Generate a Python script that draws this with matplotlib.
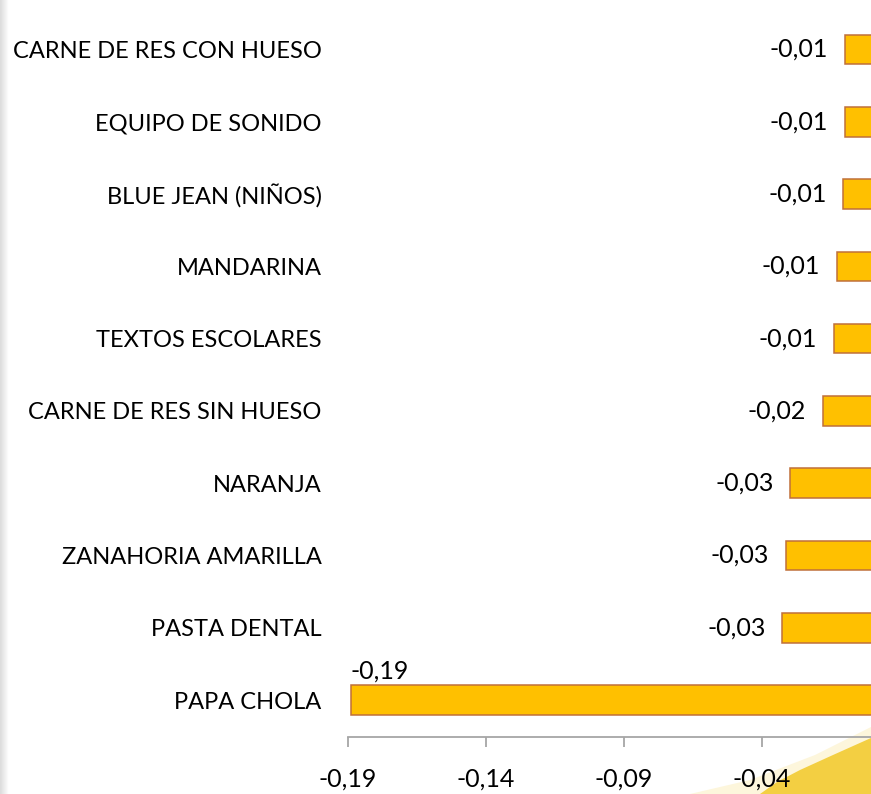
import matplotlib
matplotlib.use("Agg")
import matplotlib.pyplot as plt
from matplotlib.patches import Polygon
from matplotlib.ticker import FuncFormatter
import numpy as np

# data, bottom to top as drawn
productos = ["PAPA CHOLA", "PASTA DENTAL", "ZANAHORIA AMARILLA", "NARANJA",
             "CARNE DE RES SIN HUESO", "TEXTOS ESCOLARES", "MANDARINA",
             "BLUE JEAN (NIÑOS)", "EQUIPO DE SONIDO", "CARNE DE RES CON HUESO"]
variacion = [-0.189, -0.0325, -0.0312, -0.0297, -0.0178, -0.0138, -0.0127,
             -0.0104, -0.0098, -0.0098]
x_ticks = [-0.19, -0.14, -0.09, -0.04]

plt.rcParams['font.family'] = ['Lato', 'DejaVu Sans']

def coma(v, pos=None):
    return ("%.2f" % v).replace(".", ",")

fig = plt.figure(figsize=(8.71, 7.94), dpi=100)

# yellow swoosh in the bottom right corner (figure pixels)
W, H = 871.0, 794.0
outer = [(690, 794), (750, 780), (815, 755), (871, 727), (871, 794)]
inner = [(760, 794), (777, 782), (800, 770), (833, 755), (871, 738), (871, 794)]
fig.patches.append(Polygon([(x / W, 1 - y / H) for x, y in outer], closed=True,
                           transform=fig.transFigure, fc='#FDF6DC', ec='none', zorder=-2))
fig.patches.append(Polygon([(x / W, 1 - y / H) for x, y in inner], closed=True,
                           transform=fig.transFigure, fc='#F3CF42', ec='none', zorder=-1))

# faint grey shadow on the left edge
sh = fig.add_axes([0, 0, 8 / W, 1])
sh.imshow(np.linspace(0.86, 1.0, 20)[None, :], cmap='gray', vmin=0, vmax=1,
          aspect='auto', extent=[0, 1, 0, 1])
sh.axis('off')

ax = fig.add_axes([348 / W, 1 - 737 / H, 524 / W, (737 - 12.6) / H])
ax.patch.set_alpha(0)
y = np.arange(len(productos))
ax.barh(y, variacion, height=0.41, color='#FFC000', edgecolor='#C0703A', linewidth=1.1)

ax.set_xlim(-0.19, 0.0)
ax.set_ylim(-0.51, len(productos) - 0.49)
ax.set_yticks(y)
ax.set_yticklabels(productos, fontsize=17)
ax.set_xticks(x_ticks)
ax.xaxis.set_major_formatter(FuncFormatter(coma))

for s in ['top', 'right', 'left']:
    ax.spines[s].set_visible(False)
ax.spines['bottom'].set_color('#A6A6A6')
ax.spines['bottom'].set_linewidth(1.3)
ax.tick_params(axis='y', length=0, pad=19)
ax.tick_params(axis='x', length=7, width=1.3, color='#A6A6A6', pad=15, labelsize=18)

# value labels
for i, v in enumerate(variacion):
    if v <= -0.15:
        ax.annotate(coma(v), (v, i + 0.2), xytext=(0, 2), textcoords='offset points',
                    ha='left', va='bottom', fontsize=18)
    else:
        ax.annotate(coma(v), (v, i), xytext=(-12, 0), textcoords='offset points',
                    ha='right', va='center', fontsize=18)

fig.savefig("out.png", dpi=100)
